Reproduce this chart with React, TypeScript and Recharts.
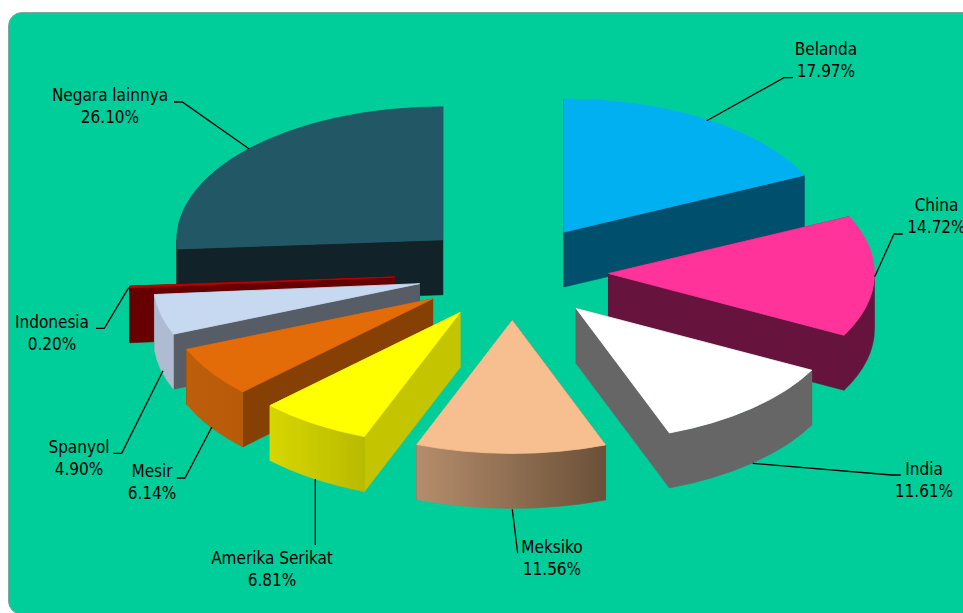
import React from "react";
import { PieChart, Pie } from "recharts";

const names = ["Belanda", "China", "India", "Meksiko", "Amerika Serikat", "Mesir", "Spanyol", "Indonesia", "Negara lainnya"];
const shares = [17.97, 14.72, 11.61, 11.56, 6.81, 6.14, 4.9, 0.2, 26.1];
const topColors = ["#00B0F0", "#FF3399", "#FFFFFF", "#F7BF8F", "#FFFF00", "#E36C09", "#C6D9F0", "#C00000", "#225866"];
const sideColors = ["#004F6C", "#66143D", "#666666", "#6A5038", "#C4C400", "#874004", "#565D67", "#660000", "#112229"];
const outerFrom = ["#004F6C", "#66143D", "#666666", "#B58D6C", "#D6D600", "#BC5E0A", "#AEBBD0", "#660000", "#112229"];
const outerTo = ["#004F6C", "#66143D", "#666666", "#6A5038", "#BABA00", "#B85A08", "#AEBBD0", "#660000", "#112229"];

const table = names.map((name, i) => ({ name, value: shares[i], index: i }));
const tableReversed = [...table].reverse();
const backSlices = ["Amerika Serikat", "Mesir", "Spanyol", "Indonesia", "Negara lainnya"];

const CENTER_X = 512.7;
const CENTER_Y = 272.5;
const RADIUS = 266;
const SQUASH = 0.5;
const DEPTH = 55;
const EXPLODE = 95.8;
const EXPLODE_WIDE = 118;

type LabelPlace = { x: number; y: number; line: number[][] };
const labelLayout: Record<string, LabelPlace> = {
  Belanda: { x: 826, y: 55, line: [[706.7, 120.7], [784, 77.7], [793, 77.7]] },
  China: { x: 936.5, y: 211, line: [[874.7, 276.7], [894, 234], [902.7, 234]] },
  India: { x: 924, y: 475, line: [[752.7, 463.3], [891.7, 475], [900.7, 475]] },
  Meksiko: { x: 552, y: 553, line: [[512.3, 509.3], [517.7, 553.3]] },
  "Amerika Serikat": { x: 272, y: 564, line: [[315.3, 479.3], [315.3, 545]] },
  Mesir: { x: 152, y: 477, line: [[211.7, 427.3], [185, 478], [176.7, 478]] },
  Spanyol: { x: 79, y: 453, line: [[163, 370.7], [121.7, 453.3], [113.3, 453.3]] },
  Indonesia: { x: 52, y: 328, line: [[128.7, 287.7], [104.3, 328.3], [96, 328.3]] },
  "Negara lainnya": { x: 110, y: 101, line: [[249.3, 149], [182.3, 102], [174, 102]] },
};

const rad = (d: number) => (d * Math.PI) / 180;

function Slice(layer: "back" | "front") {
  return function SliceShape(p: any) {
    const name: string = p.name ?? p.payload?.name;
    const i: number = names.indexOf(name);
    if (backSlices.includes(name) !== (layer === "back")) return <g />;
    let lo = Math.min(90 - p.startAngle, 90 - p.endAngle);
    let hi = Math.max(90 - p.startAngle, 90 - p.endAngle);
    if (lo < 0) {
      lo += 360;
      hi += 360;
    }
    const mid = (lo + hi) / 2;
    const r: number = p.outerRadius;
    const ry = r * SQUASH;
    const push = name === "Indonesia" ? EXPLODE_WIDE : EXPLODE;
    const ax = p.cx + push * Math.sin(rad(mid));
    const ay = p.cy - push * SQUASH * Math.cos(rad(mid));
    const pt = (t: number, dy = 0) => [ax + r * Math.sin(rad(t)), ay - ry * Math.cos(rad(t)) + dy];
    const arc = (a: number, b: number, dy = 0) => {
      const [x, y] = pt(b, dy);
      return `A ${r} ${ry} 0 ${Math.abs(b - a) > 180 ? 1 : 0} ${b > a ? 1 : 0} ${x} ${y}`;
    };
    const [sx, sy] = pt(lo);
    const [ex, ey] = pt(hi);
    const top = `M ${ax} ${ay} L ${sx} ${sy} ${arc(lo, hi)} Z`;
    const radial = (x: number, y: number) =>
      `M ${ax} ${ay} L ${x} ${y} L ${x} ${y + DEPTH} L ${ax} ${ay + DEPTH} Z`;
    const walls =
      mid <= 180
        ? [radial(sx, sy), radial(ex, ey)]
        : [radial(ex, ey), radial(sx, sy)];
    const oa = Math.max(lo, 90);
    const ob = Math.min(hi, 270);
    let outer: string | null = null;
    if (ob > oa) {
      const [p1x, p1y] = pt(oa);
      const [p2x, p2y] = pt(ob, DEPTH);
      outer = `M ${p1x} ${p1y} ${arc(oa, ob)} L ${p2x} ${p2y} ${arc(ob, oa, DEPTH)} Z`;
    }
    const gid = `outer-${i}`;
    return (
      <g>
        <defs>
          <linearGradient id={gid} x1="0" y1="0" x2="1" y2="0">
            <stop offset="0" stopColor={outerFrom[i]} />
            <stop offset="1" stopColor={outerTo[i]} />
          </linearGradient>
        </defs>
        {walls.map((d, k) => (
          <path key={k} d={d} fill={sideColors[i]} stroke={sideColors[i]} strokeWidth={0.6} />
        ))}
        {outer && <path d={outer} fill={`url(#${gid})`} stroke={`url(#${gid})`} strokeWidth={0.6} />}
        <path d={top} fill={topColors[i]} stroke={topColors[i]} strokeWidth={0.8} />
      </g>
    );
  };
}

function SliceLabel(layer: "back" | "front") {
  return function LabelShape(p: any) {
    const name: string = p.name ?? p.payload?.name;
    if (backSlices.includes(name) !== (layer === "back")) return <g />;
    const place = labelLayout[name];
    const value: number = p.value ?? p.payload?.value;
    return (
      <g>
        <polyline
          points={place.line.map((q) => q.join(",")).join(" ")}
          fill="none"
          stroke="#000"
          strokeWidth={1.3}
        />
        <text
          x={place.x}
          y={place.y}
          textAnchor="middle"
          fontFamily="'DejaVu Sans Condensed', 'DejaVu Sans', sans-serif"
          fontSize={17}
          fill="#000"
        >
          {name}
        </text>
        <text
          x={place.x}
          y={place.y + 22}
          textAnchor="middle"
          fontFamily="'DejaVu Sans Condensed', 'DejaVu Sans', sans-serif"
          fontSize={17}
          fill="#000"
        >
          {value.toFixed(2)}%
        </text>
      </g>
    );
  };
}

export default function App() {
  return (
    <div style={{ position: "fixed", left: 0, top: 0, width: 963, height: 613, overflow: "hidden", background: "#fff" }}>
      <div
        style={{
          position: "absolute",
          left: 8,
          top: 12,
          width: 975,
          height: 603,
          background: "#00CE9A",
          border: "1px solid #7FA5A0",
          borderRadius: 14,
          boxSizing: "border-box",
        }}
      />
      <div style={{ position: "absolute", left: 0, top: 0 }}>
        <PieChart width={963} height={613} margin={{ top: 0, right: 0, bottom: 0, left: 0 }}>
          <Pie
            data={tableReversed}
            dataKey="value"
            nameKey="name"
            cx={CENTER_X}
            cy={CENTER_Y}
            outerRadius={RADIUS}
            startAngle={90}
            endAngle={450}
            stroke="none"
            isAnimationActive={false}
            shape={Slice("back")}
            label={SliceLabel("back")}
            labelLine={false}
          />
          <Pie
            data={table}
            dataKey="value"
            nameKey="name"
            cx={CENTER_X}
            cy={CENTER_Y}
            outerRadius={RADIUS}
            startAngle={90}
            endAngle={-270}
            stroke="none"
            isAnimationActive={false}
            shape={Slice("front")}
            label={SliceLabel("front")}
            labelLine={false}
          />
        </PieChart>
      </div>
    </div>
  );
}
